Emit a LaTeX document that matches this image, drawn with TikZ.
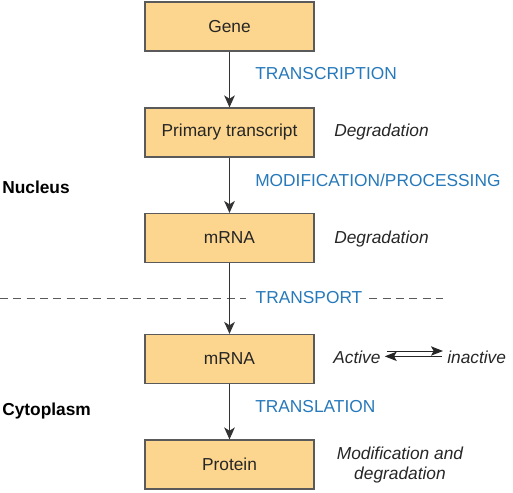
\documentclass[tikz,border=0pt]{standalone}
\usepackage{fontspec}
\setmainfont{Liberation Sans}
\usetikzlibrary{arrows.meta}
\definecolor{boxfill}{RGB}{252,214,142}
\definecolor{boxline}{RGB}{90,90,90}
\definecolor{stepblue}{RGB}{38,121,186}
\tikzset{
	stagebox/.style={
		draw=boxline, fill=boxfill, line width=0.9pt,
		minimum width=126.75pt, minimum height=36.75pt, inner sep=0pt,
		font=\fontsize{13}{16}\selectfont, text=black!85},
	steplabel/.style={
		anchor=west, text=stepblue, inner sep=0pt,
		font=\fontsize{13}{16}\selectfont},
	fatelabel/.style={
		anchor=west, inner sep=0pt,
		font=\fontsize{13}{16}\selectfont\itshape, text=black!85},
	placelabel/.style={
		anchor=west, inner sep=0pt,
		font=\fontsize{13}{16}\selectfont\bfseries},
	flow/.style={
		draw=black!80, line width=0.75pt, -{Stealth[length=9pt,width=8pt,inset=2.5pt]}},
	swing/.style={
		draw=black!85, line width=0.75pt, -{Stealth[length=9pt,width=7pt,inset=2pt]}}
}

\begin{document}
\begin{tikzpicture}[x=0.75pt,y=0.75pt,yscale=-1,xscale=1]
\useasboundingbox (0,0) rectangle (513,492);

% boxes
\draw (229.5,26.5) node [stagebox] (gene) {Gene};
\draw (229.5,132.5) node [stagebox] (primary) {Primary transcript};
\draw (229.5,238) node [stagebox] (mrnaN) {mRNA};
\draw (229.5,359) node [stagebox] (mrnaC) {mRNA};
\draw (229.5,464.5) node [stagebox] (protein) {Protein};

% nucleus / cytoplasm boundary
\draw (309,297.5) node [text=stepblue, inner sep=0pt, font=\fontsize{13}{16}\selectfont] (transport) {TRANSPORT};
\coordinate (divL) at (0,298);
\coordinate (divR) at (443,298);
\draw [boxline, line width=0.75pt, dash pattern=on 6pt off 4pt] (divL) -- ([xshift=-7pt]transport.west |- divL);
\draw [boxline, line width=0.75pt, dash pattern=on 6pt off 4pt] ([xshift=5pt]transport.east |- divR) -- (divR);

% flow arrows
\draw [flow] (gene) -- (primary);
\draw [flow] (primary) -- (mrnaN);
\draw [flow] (mrnaN) -- (mrnaC);
\draw [flow] (mrnaC) -- (protein);

\draw (255,73.5) node [steplabel] (transcription) {TRANSCRIPTION};
\draw (255,180.5) node [steplabel] (processing) {MODIFICATION/PROCESSING};
\draw (255,407) node [steplabel] (translation) {TRANSLATION};

\draw (334,132.5) node [fatelabel] (degr1) {Degradation};
\draw (334,239) node [fatelabel] (degr2) {Degradation};
\draw (333,357) node [fatelabel] (active) {Active};
\draw (447,357) node [fatelabel] (inactive) {inactive};
\draw (400,465) node [fatelabel, anchor=center, align=center, font=\fontsize{13}{15}\selectfont\itshape] (modif) {Modification and\\degradation};

% equilibrium
\draw [swing] ([xshift=5pt,yshift=-4.5pt]active.east) -- ([xshift=-3pt,yshift=-4.5pt]inactive.west);
\draw [swing] ([xshift=-4pt,yshift=-0.5pt]inactive.west) -- ([xshift=3pt,yshift=-0.5pt]active.east);

\draw (2,187) node [placelabel] (nucleus) {Nucleus};
\draw (2,411) node [placelabel] (cytoplasm) {Cytoplasm};

\end{tikzpicture}
\end{document}
